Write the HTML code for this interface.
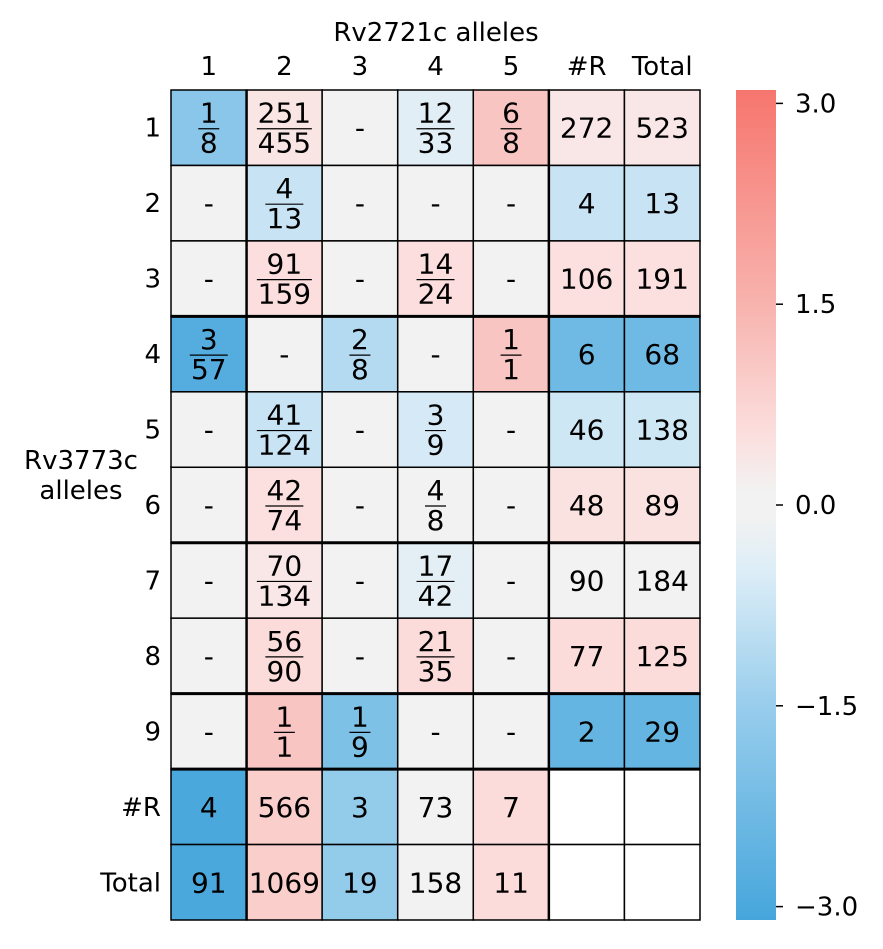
<!DOCTYPE html>
<html><head><meta charset="utf-8"><style>
body{margin:0;background:#fff;}
svg text{font-family:"DejaVu Sans","Liberation Sans",sans-serif;fill:#000;}
</style></head><body>
<svg id="chart" width="883" height="944" viewBox="0 0 883 944" xmlns="http://www.w3.org/2000/svg">
<defs>
<linearGradient id="cbg" x1="0" y1="1" x2="0" y2="0">
<stop offset="0" stop-color="#46a6dc"/>
<stop offset="0.258" stop-color="#98cdec"/>
<stop offset="0.419" stop-color="#dcedf7"/>
<stop offset="0.485" stop-color="#f2f2f2"/>
<stop offset="0.515" stop-color="#f2f2f2"/>
<stop offset="0.58" stop-color="#fbe0df"/>
<stop offset="0.742" stop-color="#f8b3ae"/>
<stop offset="1" stop-color="#f6766e"/>
</linearGradient>
</defs>
<g id="cells"></g>
<g id="lines"></g>
<g id="labels"></g>
<text x="436" y="41" font-size="26" text-anchor="middle">Rv2721c alleles</text>
<text x="81" y="469" font-size="26" text-anchor="middle">Rv3773c</text>
<text x="81" y="499" font-size="26" text-anchor="middle">alleles</text>
<rect x="736" y="90" width="40" height="830" fill="url(#cbg)"/>
<g id="cbticks"></g>
</svg>
<script>
const colLabels=["1","2","3","4","5","#R","Total"];
const rowLabels=["1","2","3","4","5","6","7","8","9","#R","Total"];
const cellText=[
["1/8","251/455","-","12/33","6/8","272","523"],
["-","4/13","-","-","-","4","13"],
["-","91/159","-","14/24","-","106","191"],
["3/57","-","2/8","-","1/1","6","68"],
["-","41/124","-","3/9","-","46","138"],
["-","42/74","-","4/8","-","48","89"],
["-","70/134","-","17/42","-","90","184"],
["-","56/90","-","21/35","-","77","125"],
["-","1/1","1/9","-","-","2","29"],
["4","566","3","73","7","",""],
["91","1069","19","158","11","",""]];
const scores=[
[-1.8,0.4,0,-0.4,1.1,0.35,0.35],
[0,-0.8,0,0,0,-0.8,-0.8],
[0,0.55,0,0.55,0,0.5,0.5],
[-2.8,0,-1.1,0,1.1,-2.3,-2.3],
[0,-0.8,0,-0.6,0,-0.7,-0.7],
[0,0.5,0,0,0,0.45,0.45],
[0,0.35,0,-0.35,0,0,0],
[0,0.6,0,0.6,0,0.6,0.6],
[0,1.1,-2.0,0,0,-2.5,-2.5],
[-3,0.9,-1.6,0,0.6,null,null],
[-3,0.9,-1.6,0,0.6,null,null]];
const cbTicks=[3.0,1.5,0.0,-1.5,-3.0];
const cbTickLabels=["3.0","1.5","0.0","\u22121.5","\u22123.0"];

const NS="http://www.w3.org/2000/svg";
const X0=171,X1=700,Y0=90,Y1=920;
const cw=(X1-X0)/colLabels.length, rh=(Y1-Y0)/rowLabels.length;
const xPos=i=>X0+i*cw, yPos=j=>Y0+j*rh;
const VMIN=-3.1,VMAX=3.1;
const cbY=v=>Y1-(v-VMIN)/(VMAX-VMIN)*(Y1-Y0);
const stops=[[-3.1,[70,166,220]],[-1.5,[152,205,236]],[-0.5,[220,237,247]],[-0.1,[242,242,242]],[0.1,[242,242,242]],[0.5,[251,224,223]],[1.5,[248,179,174]],[3.1,[246,118,110]]];
function color(v){
  if(v===null) return "#ffffff";
  v=Math.max(VMIN,Math.min(VMAX,v));
  for(let k=0;k<stops.length-1;k++){
    const a=stops[k],b=stops[k+1];
    if(v<=b[0]){const t=(v-a[0])/(b[0]-a[0]);
      const c=a[1].map((x,i)=>Math.round(x+(b[1][i]-x)*t));
      return "rgb("+c.join(",")+")";}
  }
  return "rgb(246,118,110)";
}
function mk(tag,attrs,parent,txt){
  const e=document.createElementNS(NS,tag);
  for(const k in attrs) e.setAttribute(k,attrs[k]);
  if(txt!==undefined) e.textContent=txt;
  parent.appendChild(e); return e;
}
const gC=document.getElementById('cells'),gL=document.getElementById('lines'),gT=document.getElementById('labels');
for(let r=0;r<rowLabels.length;r++){
  for(let c=0;c<colLabels.length;c++){
    const x=xPos(c),y=yPos(r);
    const rect=mk('rect',{x:x,y:y,width:cw,height:rh,fill:color(scores[r][c]),stroke:'#000','stroke-width':1.5},gC);
    
    
    const t=cellText[r][c];
    const cx=x+cw/2, cy=y+rh/2;
    if(t.includes('/')){
      const [n,d]=t.split('/');
      const w=Math.max(n.length,d.length)*17+4;
      const tn=mk('text',{x:cx,y:cy-5,'font-size':28,'text-anchor':'middle'},gT,n);
      
      
      const ln=mk('line',{x1:cx-w/2,x2:cx+w/2,y1:cy+1,y2:cy+1,stroke:'#000','stroke-width':1.2},gT);
      
      
      const td=mk('text',{x:cx,y:cy+25,'font-size':28,'text-anchor':'middle'},gT,d);
      
      
    } else if(t!==''){
      const tt=mk('text',{x:cx,y:cy+10,'font-size':28,'text-anchor':'middle'},gT,t);
      
      
    }
  }
}
[3,6,8,9].forEach(j=>{const l=mk('line',{x1:X0,x2:X1,y1:yPos(j),y2:yPos(j),stroke:'#000','stroke-width':3},gL);

});
[1,5].forEach(i=>{const l=mk('line',{x1:xPos(i),x2:xPos(i),y1:Y0,y2:Y1,stroke:'#000','stroke-width':2.5},gL);

});
colLabels.forEach((s,i)=>{const t=mk('text',{x:xPos(i)+cw/2,y:75,'font-size':26,'text-anchor':'middle'},gT,s);

});
rowLabels.forEach((s,j)=>{const t=mk('text',{x:161,y:yPos(j)+rh/2+9,'font-size':26,'text-anchor':'end'},gT,s);

});
const gB=document.getElementById('cbticks');
cbTicks.forEach((v,i)=>{const y=cbY(v);
  const l=mk('line',{x1:776,x2:783,y1:y,y2:y,stroke:'#000','stroke-width':1.5},gB);
  
  
  const t=mk('text',{x:795,y:y+9,'font-size':26},gB,cbTickLabels[i]);
  
  });
</script>
</body></html>
